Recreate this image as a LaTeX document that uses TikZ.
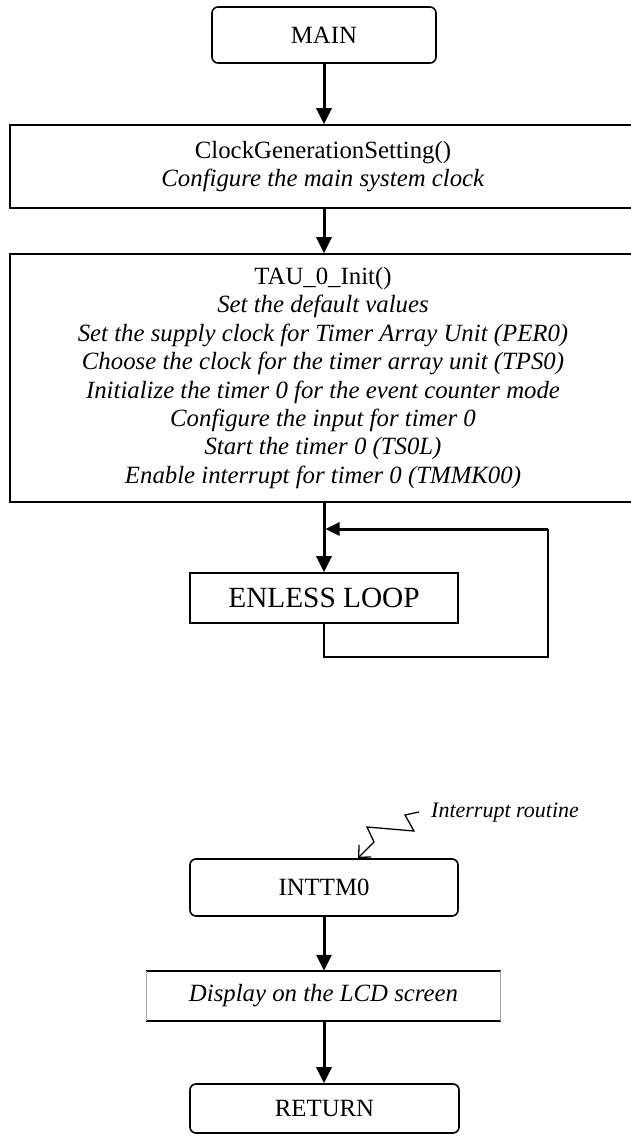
\documentclass[tikz,border=0pt]{standalone}
\usepackage{fontspec}
\setmainfont{Liberation Serif}
\usetikzlibrary{arrows.meta}
\begin{document}
\begin{tikzpicture}[x=1pt,y=-1pt,
  base/.style={draw=black, line width=1.6pt, align=center, inner sep=0pt,
    font=\fontsize{24.8}{28.4}\selectfont},
  term/.style={base, rounded corners=6pt},
  proc/.style={base},
  flow/.style={line width=3pt, -{Triangle[length=16pt,width=15pt]}},
  loopline/.style={line width=1.6pt},
  zigzag/.style={line width=1.3pt, line join=miter, -{Straight Barb[length=9pt,width=17pt,line width=1.3pt]}},
]
\useasboundingbox (0,0) rectangle (631,1137);

% main program
\node[term, minimum width=224pt, minimum height=56pt] (main) at (324,35) {MAIN};
\node[proc, minimum width=626pt, minimum height=83pt] (clock) at (323,166.5)
  {ClockGenerationSetting()\\\textit{Configure the main system clock}};
\node[proc, minimum width=626pt, minimum height=248pt] (tau) at (323,378)
  {TAU\_0\_Init()\\
   \textit{Set the default values}\\
   \textit{Set the supply clock for Timer Array Unit (PER0)}\\
   \textit{Choose the clock for the timer array unit (TPS0)}\\
   \textit{Initialize the timer 0 for the event counter mode}\\
   \textit{Configure the input for timer 0}\\
   \textit{Start the timer 0 (TS0L)}\\
   \textit{Enable interrupt for timer 0 (TMMK00)}};
\node[proc, font=\fontsize{29.3}{33}\selectfont, minimum width=268pt, minimum height=50pt]
  (loop) at (324,598) {ENLESS LOOP};

\draw[flow] (main.south) -- (clock.north -| main.south);
\draw[flow] (clock.south -| main.south) -- (tau.north -| main.south);
\draw[flow] (tau.south -| main.south) -- (loop.north);

% endless loop return path
\coordinate (lb) at (324,657);
\coordinate (rb) at (548,657);
\coordinate (rt) at (548,529);
\coordinate (lt) at (325.5,529);
\draw[loopline] (loop.south) -- (lb) -- (rb) -- (rt);
\draw[line width=3pt, -{Triangle[length=14pt,width=13pt]}] (rt) -- (lt);

% interrupt routine
\node[term, minimum width=268pt, minimum height=57pt] (inttm) at (324,887.5) {INTTM0};
\node[anchor=west, inner sep=0pt, font=\fontsize{22}{26}\selectfont\itshape]
  (irqlabel) at (431,813) {Interrupt routine};
\node[inner sep=0pt, minimum width=354pt, minimum height=50pt,
  font=\fontsize{24.8}{28.4}\selectfont\itshape] (disp) at (323.5,996) {Display on the LCD screen};
\draw[line width=1.6pt] (disp.north west) -- (disp.north east)
  (disp.south west) -- (disp.south east);
\draw[line width=0.5pt, black!35] (disp.north west) -- (disp.south west)
  (disp.north east) -- (disp.south east);
\node[term, minimum width=269pt, minimum height=49pt] (ret) at (324.5,1108.5) {RETURN};

\coordinate (irqtip) at (358,858);
\draw[zigzag] ([xshift=-12pt,yshift=1pt]irqlabel.west) -- (405,815) -- (414,831)
  -- (367,827) -- (374,842) -- (irqtip);

\draw[flow] (inttm.south) -- (disp.north -| inttm.south);
\draw[flow] (disp.south -| inttm.south) -- (ret.north -| inttm.south);
\end{tikzpicture}
\end{document}
